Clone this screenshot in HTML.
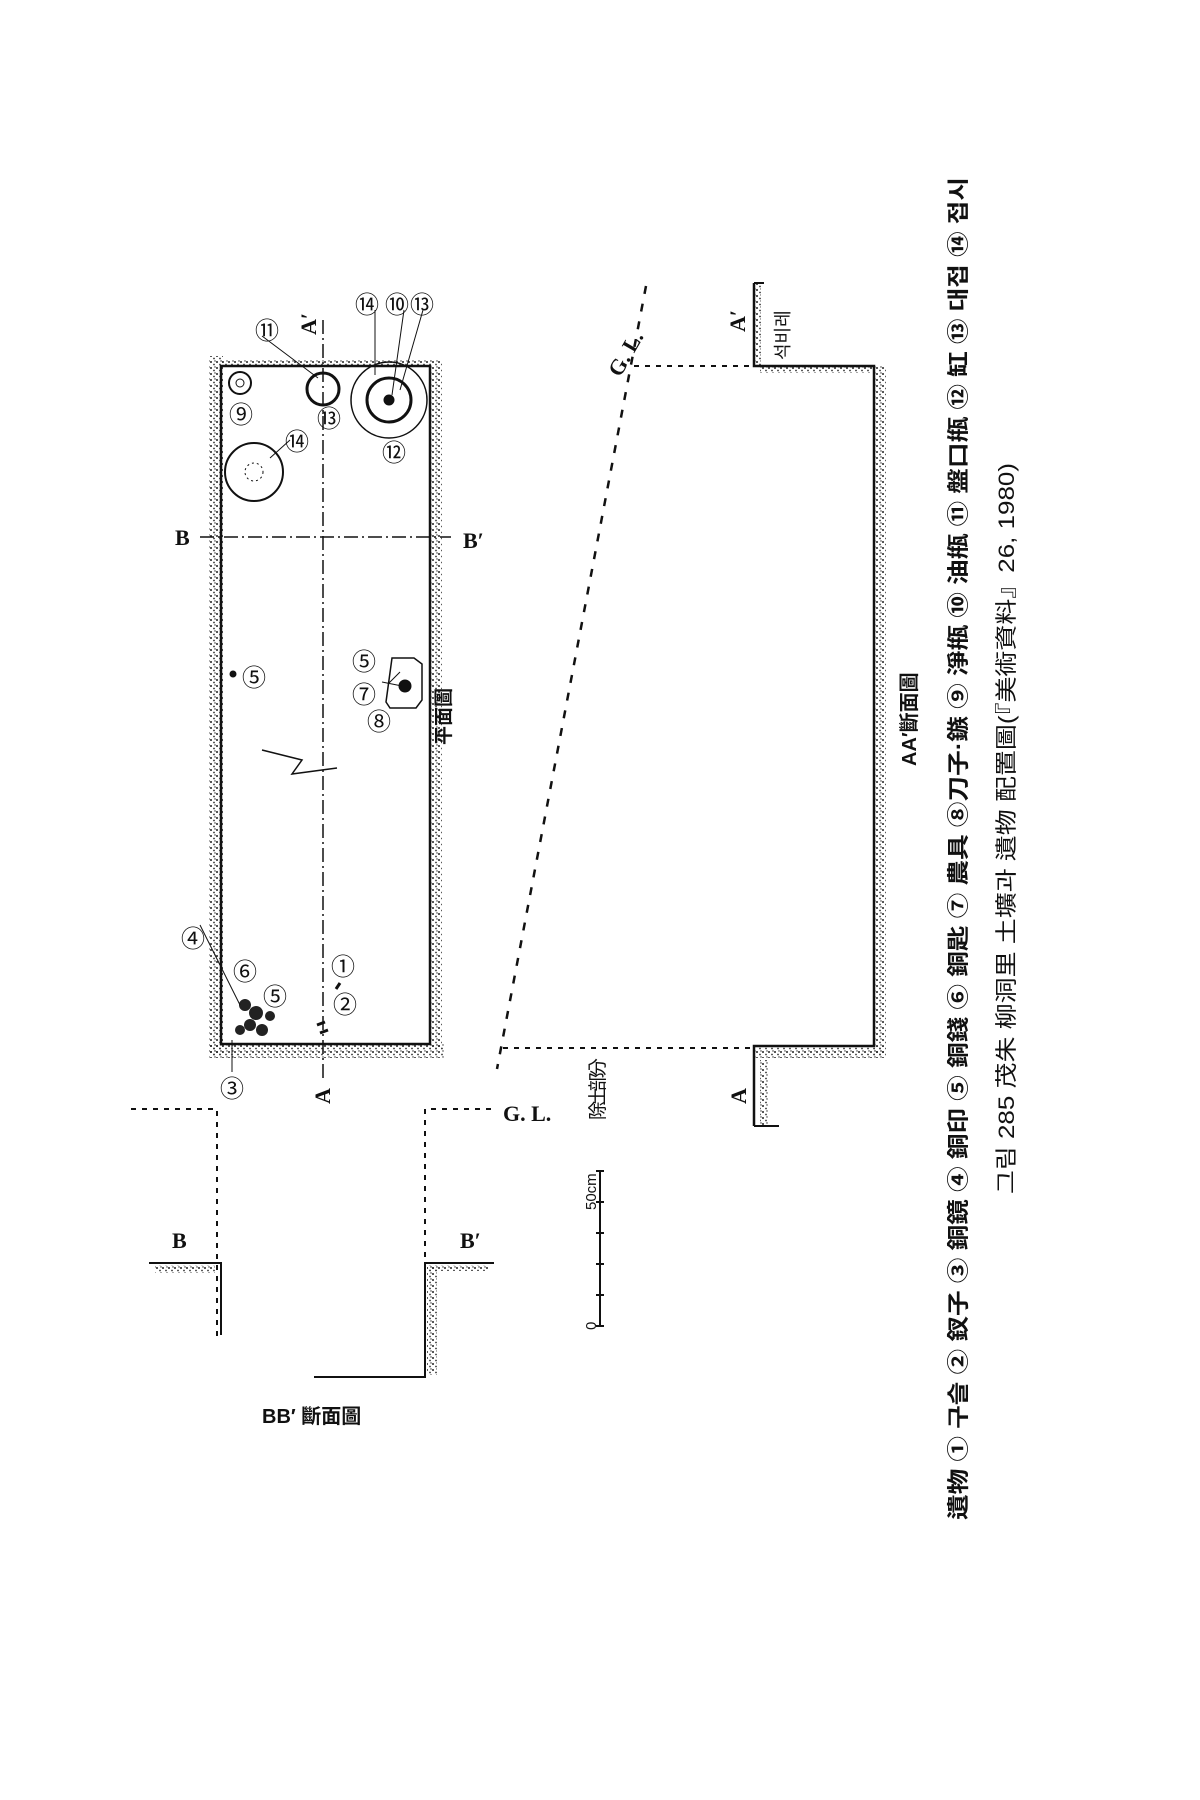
<!DOCTYPE html>
<html><head><meta charset="utf-8"><style>
html,body{margin:0;padding:0;background:#fff;}
svg{display:block;font-family:"Liberation Sans","Noto Sans CJK KR",sans-serif;}
</style></head><body>
<svg width="1200" height="1800" viewBox="0 0 1200 1800" xmlns="http://www.w3.org/2000/svg">
<defs>
<pattern id="st" width="6" height="6" patternUnits="userSpaceOnUse">
<circle cx="1" cy="2" r="1" fill="#222"/><circle cx="4" cy="4.5" r="0.9" fill="#333"/><circle cx="5" cy="1" r="0.7" fill="#333"/>
</pattern>
</defs>
<rect width="1200" height="1800" fill="#fff"/>
<g stroke="#111" fill="none">
<rect x="209" y="356" width="14" height="700" fill="url(#st)" stroke="none"/>
<rect x="209" y="1044" width="235" height="14" fill="url(#st)" stroke="none"/>
<rect x="430" y="360" width="12" height="690" fill="url(#st)" stroke="none"/>
<rect x="221" y="360" width="210" height="6" fill="url(#st)" stroke="none"/>
<rect x="221" y="366" width="209" height="678" stroke-width="2.5"/>
<line x1="323" y1="320" x2="323" y2="1082" stroke-width="1.5" stroke-dasharray="14,4,2,4"/>
<line x1="200" y1="537" x2="451" y2="537" stroke-width="1.5" stroke-dasharray="14,4,2,4"/>
<circle cx="254" cy="472" r="29" stroke-width="2"/>
<circle cx="254" cy="472" r="9" stroke-dasharray="2,3"/>
<circle cx="240" cy="383" r="11" stroke-width="2"/>
<circle cx="240" cy="383" r="4"/>
<circle cx="323" cy="389" r="16" stroke-width="3"/>
<circle cx="389" cy="400" r="38" stroke-width="1.5"/>
<circle cx="389" cy="400" r="22" stroke-width="3"/>
<circle cx="389" cy="400" r="5" fill="#111"/>
<path d="M392 658 h22 l8 6 v36 l-6 8 h-26 l-4 -6 z" stroke-width="1.5"/>
<circle cx="405" cy="686" r="6" fill="#111"/>
<circle cx="233" cy="674" r="3" fill="#111"/>
<path d="M262 750 l40 10 l-10 14 l45 -6" stroke-width="1.5"/>
<g fill="#222" stroke="none">
<circle cx="245" cy="1005" r="6"/><circle cx="256" cy="1013" r="7"/><circle cx="250" cy="1025" r="6"/><circle cx="262" cy="1030" r="6"/><circle cx="270" cy="1016" r="5"/><circle cx="240" cy="1030" r="5"/>
</g>
<path d="M325 1022 l-8 3 M328 1030 l-8 3 M340 983 l-4 6" stroke-width="3"/>
<path d="M200 925 L240 1005 M232 1040 v32 M262 336 L318 378 M375 310 L375 375 M404 310 L392 395 M423 310 L400 390 M270 458 L290 440 M400 672 L388 684 M402 686 l-20 -4" stroke-width="1"/>
<rect x="874" y="366" width="12" height="690" fill="url(#st)" stroke="none"/>
<rect x="754" y="1046" width="130" height="12" fill="url(#st)" stroke="none"/>
<rect x="760" y="366" width="114" height="7" fill="url(#st)" stroke="none"/>
<rect x="754" y="283" width="7" height="83" fill="url(#st)" stroke="none"/>
<rect x="760" y="1060" width="8" height="66" fill="url(#st)" stroke="none"/>
<path d="M754 283 V366 H874 V1046 H754 V1126" stroke-width="2.5"/>
<path d="M754 283 h10 M754 1126 h25" stroke-width="2"/>
<line x1="646" y1="286" x2="497" y2="1069" stroke-width="2.5" stroke-dasharray="8,10"/>
<line x1="634" y1="366" x2="754" y2="366" stroke-width="2" stroke-dasharray="5,6"/>
<line x1="503" y1="1048" x2="754" y2="1048" stroke-width="2" stroke-dasharray="5,6"/>
<path d="M131 1109 H217 V1337" stroke-width="2" stroke-dasharray="5,6"/>
<path d="M149 1263 H221 V1335" stroke-width="2"/>
<rect x="155" y="1265" width="60" height="8" fill="url(#st)" stroke="none"/>
<path d="M491 1109 H425 V1263" stroke-width="2" stroke-dasharray="5,6"/>
<path d="M494 1263 H425 V1377 H314" stroke-width="2"/>
<rect x="427" y="1265" width="10" height="110" fill="url(#st)" stroke="none"/>
<rect x="427" y="1265" width="62" height="6" fill="url(#st)" stroke="none"/>
<path d="M600 1171 V1326 M596 1171 h8 M596 1202 h8 M596 1233 h8 M596 1264 h8 M596 1295 h8 M596 1326 h8" stroke-width="2"/>
</g>
<g fill="#111" font-size="20">
<g font-family="Liberation Serif,serif" font-weight="bold" font-size="22">
<text x="175" y="545">B</text><text x="463" y="548">B′</text>
<text x="172" y="1248">B</text><text x="460" y="1248">B′</text>
<text transform="translate(330,1104) rotate(-90)">A</text>
<text transform="translate(316,335) rotate(-90)">A′</text>
<text transform="translate(746,1104) rotate(-90)">A</text>
<text transform="translate(745,332) rotate(-90)">A′</text>
<text x="503" y="1121">G. L.</text>
<text transform="translate(620,378) rotate(-60)">G. L.</text>
</g>
<g font-size="24">
<text x="242" y="686">⑤</text><text x="352" y="670">⑤</text><text x="352" y="703">⑦</text><text x="367" y="730">⑧</text>
<text x="229" y="423">⑨</text><text x="285" y="450">⑭</text>
<text x="255" y="339">⑪</text><text x="317" y="427">⑬</text>
<text x="355" y="313">⑭</text><text x="385" y="313">⑩</text><text x="410" y="313">⑬</text>
<text x="382" y="461">⑫</text>
<text x="181" y="947">④</text><text x="233" y="980">⑥</text><text x="263" y="1005">⑤</text>
<text x="331" y="975">①</text><text x="333" y="1013">②</text><text x="220" y="1097">③</text>
</g>
<text transform="translate(450,745) rotate(-90)" font-size="19" font-weight="bold">平面圖</text>
<text transform="translate(916,766) rotate(-90)" font-size="20" font-weight="bold">AA′斷面圖</text>
<text transform="translate(604,1120) rotate(-90)" font-size="19" textLength="62">除土部分</text>
<text transform="translate(596,1210) rotate(-90)" font-size="15">50cm</text>
<text transform="translate(596,1330) rotate(-90)" font-size="15">0</text>
<text transform="translate(789,360) rotate(-90)" font-size="18">석비레</text>
<text x="262" y="1423" font-size="20" font-weight="bold">BB′ 斷面圖</text>
<text transform="translate(966,1520) rotate(-90)" font-size="22" font-weight="bold" textLength="1343" lengthAdjust="spacingAndGlyphs">遺物 ① 구슬 ② 釵子 ③ 銅鏡 ④ 銅印 ⑤ 銅錢 ⑥ 銅匙 ⑦ 農具 ⑧刀子·鏃 ⑨ 淨甁 ⑩ 油甁 ⑪ 盤口甁 ⑫ 缸 ⑬ 대접 ⑭ 접시</text>
<text transform="translate(1014,1194) rotate(-90)" font-size="22" textLength="731" lengthAdjust="spacingAndGlyphs">그림 285  茂朱 柳洞里 土壙과 遺物 配置圖(『美術資料』26, 1980)</text>
</g>
</svg>
</body></html>
